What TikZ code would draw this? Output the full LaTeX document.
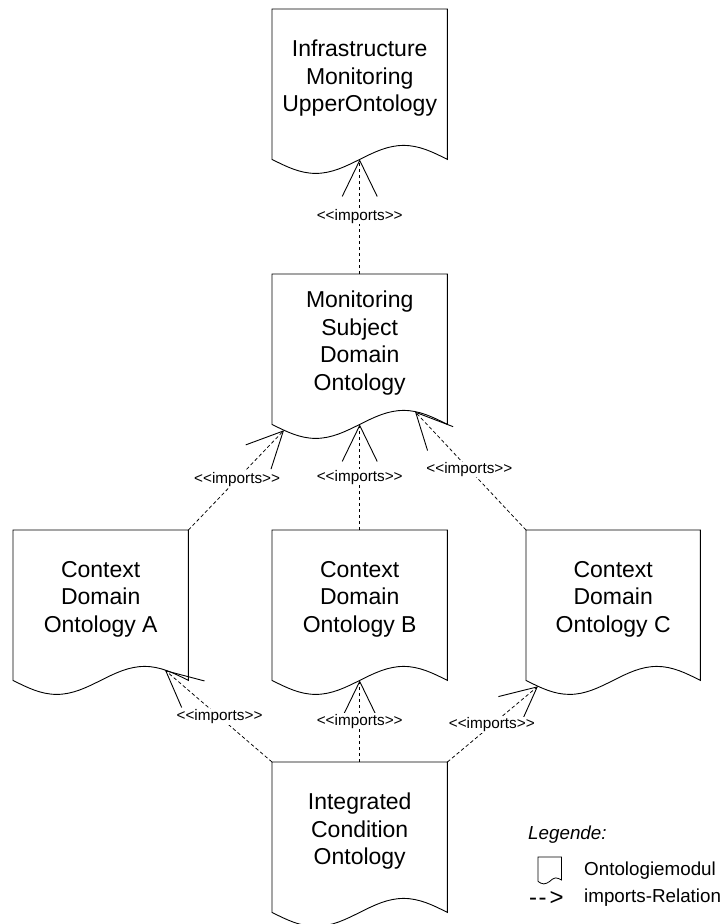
\documentclass[tikz,border=0pt]{standalone}
\usepackage{fontspec}
\setmainfont{Liberation Sans}
\usetikzlibrary{arrows.meta}
\tikzset{
  doc/.style={draw=none, anchor=north west, minimum width=175pt, minimum height=138pt,
    inner sep=0pt, align=center, font=\fontsize{23}{27.6}\selectfont},
  docline/.style={draw=black, line width=0.9pt, line join=miter},
  imp/.style={draw=black, line width=0.75pt, dash pattern=on 3.5pt off 2.5pt,
    -{Straight Barb[length=36pt, width=35pt, line width=0.9pt]}},
  lbl/.style={fill=white, inner sep=0.6pt, font=\fontsize{15.3}{18}\selectfont},
  legtext/.style={anchor=west, inner sep=0pt, font=\fontsize{18.8}{23}\selectfont}
}
\newcommand\impl{<{}<imports>{}>}
% #1 node, #2 side extension below south, #3 wave amplitude, #4 quarter width
\newcommand\docoutline[4]{%
  \draw[docline] ([shift={(0,#2)}]#1.south west) -- (#1.north west) -- (#1.north east)
    -- ([shift={(0,#2)}]#1.south east)
    sin ([shift={(-#4,#2-#3)}]#1.south east)
    cos ([shift={(0,#2)}]#1.south)
    sin ([shift={(#4,#2+#3)}]#1.south west)
    cos ([shift={(0,#2)}]#1.south west) -- cycle;}
\begin{document}
\begin{tikzpicture}[x=1pt, y=-1pt]
\useasboundingbox (0,0) rectangle (725,924);
\clip (0,0) rectangle (725,924);

% documents
\node[doc] (top) at (272,9) {Infrastructure\\Monitoring\\UpperOntology};
\node[doc] (mid) at (272,274) {Monitoring\\Subject\\Domain\\Ontology};
\node[doc] (ca) at (13,530) {Context\\Domain\\Ontology A};
\node[doc] (cb) at (272,530) {Context\\Domain\\Ontology B};
\node[doc, minimum width=174pt] (cc) at (526,530) {Context\\Domain\\Ontology C};
\node[doc] (ico) at (272,762) {Integrated\\Condition\\Ontology};

\docoutline{top}{12}{14}{43.75}
\docoutline{mid}{12}{14}{43.75}
\docoutline{ca}{12}{14}{43.75}
\docoutline{cb}{12}{14}{43.75}
\docoutline{cc}{12}{14}{43.5}
\docoutline{ico}{12}{14}{43.75}

% points on the waves
\coordinate (top-w) at ([shift={(0,12)}]top.south);
\coordinate (mid-a) at ([shift={(12,17.85)}]mid.south west);
\coordinate (mid-b) at ([shift={(0,12)}]mid.south);
\coordinate (mid-c) at ([shift={(143,-0.8)}]mid.south west);
\coordinate (ca-w) at ([shift={(152,1.7)}]ca.south west);
\coordinate (cb-w) at ([shift={(0,12)}]cb.south);
\coordinate (cc-w) at ([shift={(12,17.85)}]cc.south west);

% imports relations
\draw[imp] (mid.north) -- (top-w) node[lbl, pos=0.5] (l1) {\impl};
\draw[imp] (ca.north east) -- (mid-a) node[lbl, pos=0.51] (l2) {\impl};
\draw[imp] (cb.north) -- (mid-b) node[lbl, pos=0.5] (l3) {\impl};
\draw[imp] (cc.north west) -- (mid-c) node[lbl, pos=0.51] (l4) {\impl};
\draw[imp] (ico.north west) -- (ca-w) node[lbl, pos=0.49] (l5) {\impl};
\draw[imp] (ico.north) -- (cb-w) node[lbl, pos=0.5] (l6) {\impl};
\draw[imp] (ico.north east) -- (cc-w) node[lbl, pos=0.49] (l7) {\impl};

% legend
\node[legtext, font=\fontsize{18.8}{23}\itshape] (legt) at (528,835) {Legende:};
\node[draw=none, anchor=north west, minimum width=23pt, minimum height=24pt, inner sep=0pt] (legico) at (538,857) {};
\draw[line width=0.8pt] ([shift={(0,0)}]legico.south west) -- (legico.north west) -- (legico.north east)
  -- ([shift={(0,-1.5)}]legico.south east)
  sin ([shift={(-5.75,-3.5)}]legico.south east)
  cos ([shift={(0,0)}]legico.south)
  sin ([shift={(5.75,2.5)}]legico.south west)
  cos (legico.south west);
\node[legtext] (legdoc) at (584,871) {Ontologiemodul};
\node[legtext, font=\fontsize{24}{26}\selectfont] (legarr) at (529,898) {-\kern1.5pt-\kern3pt>};
\node[legtext] (legimp) at (584,898) {imports-Relation};
\end{tikzpicture}
\end{document}
